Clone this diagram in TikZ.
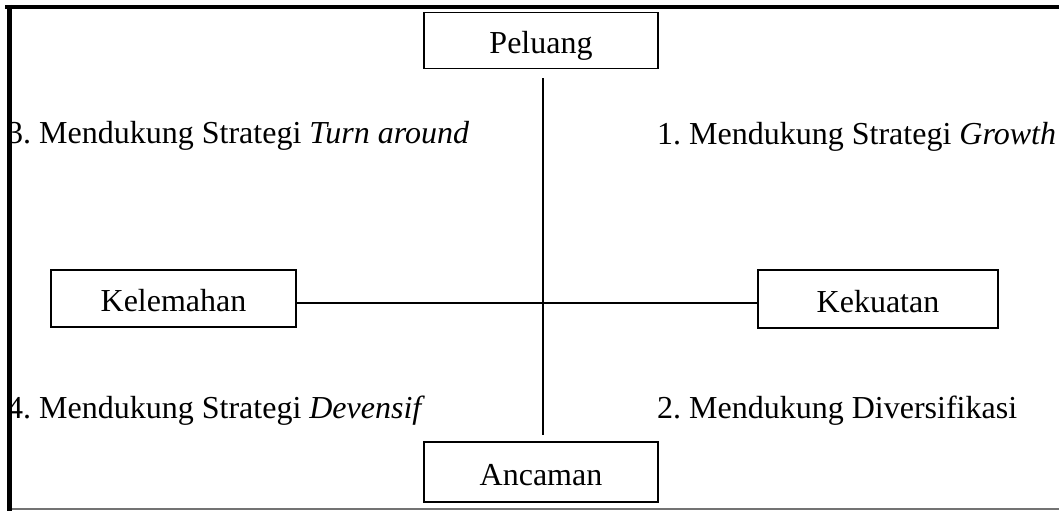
\documentclass[tikz,border=0pt]{standalone}
\usepackage{fontspec}
\setmainfont{Liberation Serif}
\begin{document}
\frenchspacing
\begin{tikzpicture}[x=1pt,y=-1pt,
  every node/.style={font=\fontsize{32}{37}\selectfont, inner sep=0pt},
  factor/.style={draw, line width=1.8pt, text height=26pt, text depth=0pt,
                 minimum width=#1},
  quad/.style={anchor=base west},
  axis/.style={line width=2pt}]
  \useasboundingbox (0,0) rectangle (1059,511);

  % four factor boxes
  \node[factor=234pt, minimum height=56pt] (pel) at (541,40.5) {Peluang};
  \node[factor=234pt, minimum height=60pt] (anc) at (541,472) {Ancaman};
  \node[factor=245pt, minimum height=57pt] (kel) at (173.5,298.5) {Kelemahan};
  \node[factor=240pt, minimum height=58pt] (kek) at (878,299) {Kekuatan};

  % quadrant labels
  \node[quad] (q3) at (7,143.5) {3. Mendukung Strategi \textit{Turn around}};
  \node[quad] (q1) at (657,144) {1. Mendukung Strategi \textit{Growth}};
  \node[quad] (q4) at (7,418.3) {4. Mendukung Strategi \textit{Devensif}};
  \node[quad] (q2) at (657,418.3) {2. Mendukung Diversifikasi};

  % axes
  \coordinate (vtop) at (543,78);
  \coordinate (vbot) at (543,435);
  \draw[axis] (vtop) -- (vbot);
  \draw[axis] (kel.east |- 0,303) -- (kek.west |- 0,303);

  % frame
  \draw[line width=1.2pt, black!55] (9,509) -- (1059,509);
  \draw[line width=4pt] (5,7) -- (1059,7);
  \draw[line width=5.5pt] (9.5,5) -- (9.5,511);
\end{tikzpicture}
\end{document}
